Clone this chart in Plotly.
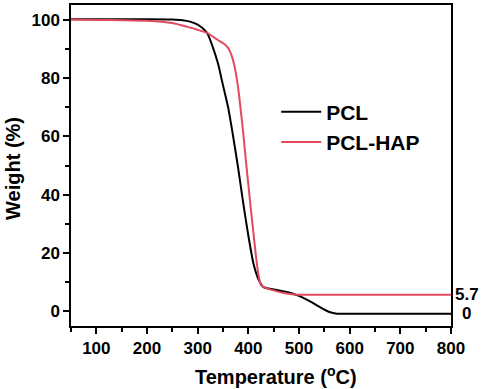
import plotly.graph_objects as go

# Data
pcl_T = [50, 100, 200, 250, 270, 285, 300, 310, 320, 330, 340, 350, 360, 370, 380,
         390, 400, 410, 420, 430, 450, 480, 500, 520, 540, 560, 575, 600, 700, 800]
pcl_W = [100.1, 100.1, 100.1, 100.0, 99.8, 99.3, 98.3, 97.0, 95.0, 90.5, 85.0, 77.5,
         70.0, 60.0, 49.0, 37.0, 26.0, 16.5, 11.0, 8.3, 7.5, 6.5, 5.3, 3.6, 1.6,
         -0.2, -0.8, -0.8, -0.8, -0.8]

hap_T = [50, 100, 150, 200, 250, 280, 300, 320, 340, 355, 360, 365, 370, 375, 380,
         385, 390, 395, 400, 405, 410, 415, 420, 425, 435, 450, 470, 490, 500, 600,
         700, 800]
hap_W = [100.0, 99.9, 99.8, 99.6, 98.8, 97.5, 96.5, 95.3, 93.0, 91.3, 90.3, 88.6,
         86.0, 82.0, 76.5, 69.0, 61.0, 52.0, 43.5, 35.0, 27.0, 19.0, 12.5, 9.0, 8.0,
         7.2, 6.3, 5.8, 5.7, 5.7, 5.7, 5.7]

series_names = ["PCL", "PCL-HAP"]
end_labels = ["0", "5.7"]
x_ticks = [100, 200, 300, 400, 500, 600, 700, 800]
y_ticks = [0, 20, 40, 60, 80, 100]

FONT = "Liberation Sans, Arial, sans-serif"
RED = "#E2495F"

fig = go.Figure()
fig.add_trace(go.Scatter(x=pcl_T, y=pcl_W, mode="lines", name=series_names[0],
                         line=dict(color="black", width=2, shape="spline", smoothing=0.6)))
fig.add_trace(go.Scatter(x=hap_T, y=hap_W, mode="lines", name=series_names[1],
                         line=dict(color=RED, width=2, shape="spline", smoothing=0.6)))

axis_common = dict(
    showgrid=False, zeroline=False, showline=True, linecolor="black", linewidth=1.5,
    mirror=True, ticks="outside", ticklen=6, tickwidth=1.5, tickcolor="black",
    tickfont=dict(family=FONT, size=17, color="black", weight="bold"),
)

fig.update_xaxes(range=[50, 800], tickvals=x_ticks,
                 minor=dict(dtick=50, ticks="outside", ticklen=4, tickwidth=1.5,
                            tickcolor="black", tick0=0),
                 **axis_common)
fig.update_yaxes(range=[-5, 105], tickvals=y_ticks,
                 minor=dict(dtick=10, ticks="outside", ticklen=4, tickwidth=1.5,
                            tickcolor="black", tick0=0),
                 **axis_common)

annots = [
    dict(text="Temperature (<sup>o</sup>C)", x=0.54, y=-0.155, xref="paper", yref="paper",
         xanchor="center", yanchor="middle", showarrow=False,
         font=dict(family=FONT, size=20, color="black", weight="bold")),
    dict(text="Weight (%)", x=-0.153, y=0.492, xref="paper", yref="paper",
         xanchor="center", yanchor="middle", textangle=-90, showarrow=False,
         font=dict(family=FONT, size=20, color="black", weight="bold")),
    dict(text=end_labels[1], x=1.005, y=hap_W[-1], xref="paper", yref="y",
         xanchor="left", yanchor="middle", showarrow=False,
         font=dict(family=FONT, size=17, color="black", weight="bold")),
    dict(text=end_labels[0], x=1.025, y=pcl_W[-1], xref="paper", yref="y",
         xanchor="left", yanchor="middle", showarrow=False,
         font=dict(family=FONT, size=17, color="black", weight="bold")),
]

fig.update_layout(
    width=484, height=389,
    margin=dict(l=71, r=33, t=3, b=63),
    paper_bgcolor="white", plot_bgcolor="white",
    showlegend=True,
    legend=dict(x=0.54, y=0.62, xanchor="left", yanchor="middle",
                bgcolor="rgba(0,0,0,0)", itemwidth=40, tracegroupgap=0,
                font=dict(family=FONT, size=21, color="black", weight="bold")),
    annotations=annots,
)

fig.write_html(
    "out.html",
    config={"displayModeBar": False},
    post_script="document.body.style.margin='0';document.body.style.padding='0';"
                "document.documentElement.style.margin='0';",
)
